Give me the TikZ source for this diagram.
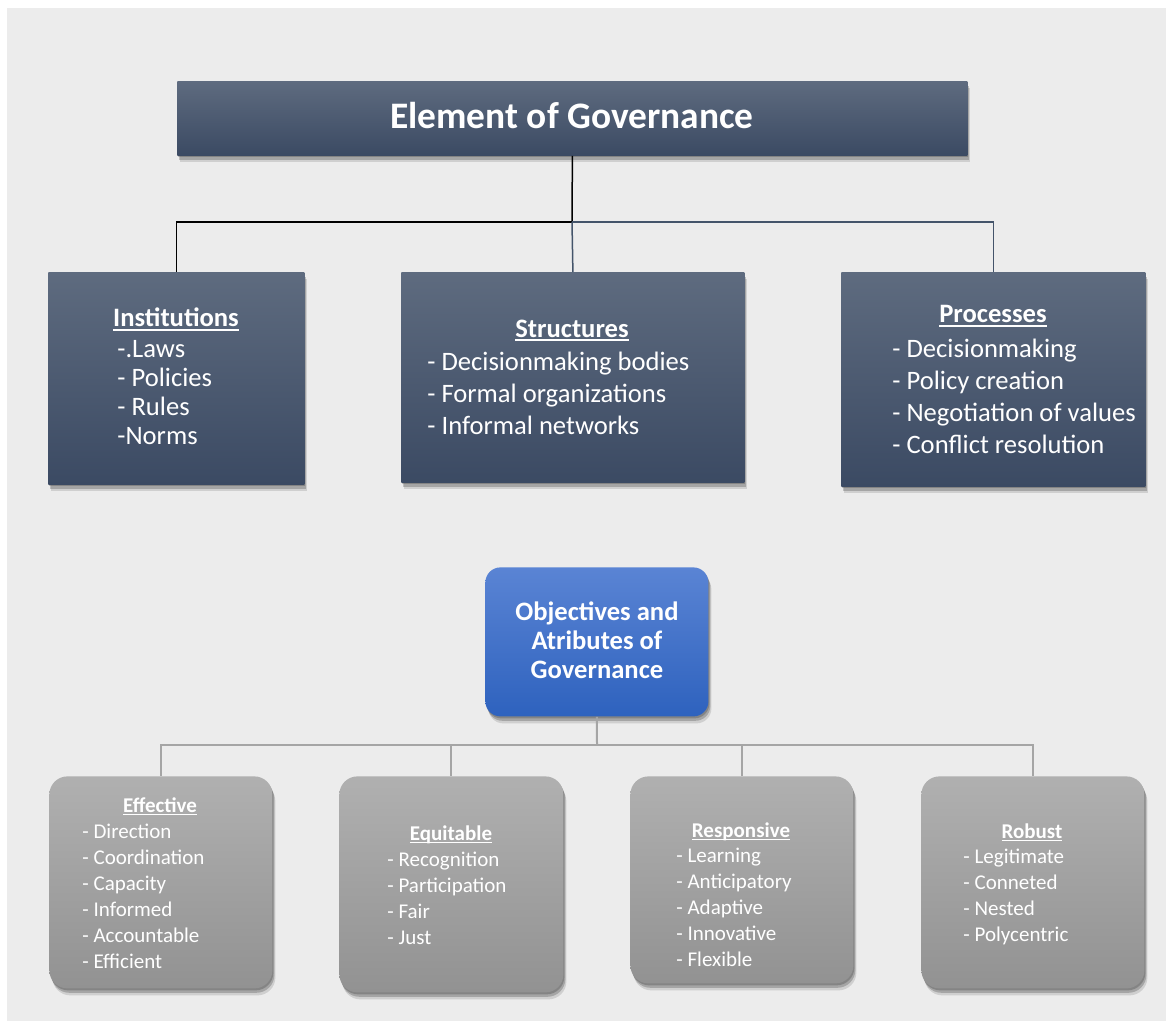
\documentclass[tikz,border=0pt]{standalone}
\usepackage{fontspec}
\setmainfont{Carlito}
\usetikzlibrary{shadows}
\newcommand\titleul[1]{\setbox0\hbox{#1}\rlap{\rule[-0.14em]{\wd0}{0.06em}}\box0}
\definecolor{bggray}{HTML}{ECECEC}
\definecolor{slatetop}{HTML}{5E6B7F}
\definecolor{slatebot}{HTML}{3B4A63}
\definecolor{slateline}{HTML}{44546A}
\definecolor{bluetop}{HTML}{5A84D4}
\definecolor{bluebot}{HTML}{2E62BE}
\definecolor{greytop}{HTML}{B0B0B0}
\definecolor{greybot}{HTML}{929292}
\definecolor{connline}{HTML}{A5A5A5}
\tikzset{
  boxshadow/.style={drop shadow={shadow xshift=1.5pt, shadow yshift=-3.5pt, opacity=0.12, fill=black},
                    drop shadow={shadow xshift=1pt, shadow yshift=-2.2pt, opacity=0.2, fill=black},
                    drop shadow={shadow xshift=0.5pt, shadow yshift=-1pt, opacity=0.2, fill=black}},
  elembox/.style={rectangle, anchor=north west, inner sep=0pt, top color=slatetop, bottom color=slatebot, boxshadow},
  objbox/.style={rectangle, rounded corners=7.5pt, anchor=north west, inner sep=0pt, top color=bluetop, bottom color=bluebot, boxshadow},
  attrbox/.style={rectangle, rounded corners=9pt, anchor=north west, inner sep=0pt, top color=greytop, bottom color=greybot, boxshadow},
  elemtitle/.style={text=white, anchor=base, inner sep=0pt, font=\fontsize{13.3}{16}\selectfont\bfseries},
  elemlist/.style={text=white, anchor=base west, inner sep=0pt, align=left, font=\fontsize{13.3}{16}\selectfont},
  attrtitle/.style={text=white, anchor=base, inner sep=0pt, font=\fontsize{10.5}{13}\selectfont\bfseries},
  attrlist/.style={text=white, anchor=base west, inner sep=0pt, align=left, font=\fontsize{10.5}{13}\selectfont},
  topline/.style={draw=black, line width=0.75pt},
  subline/.style={draw=slateline, line width=0.75pt},
  attrline/.style={draw=connline, line width=1pt},
}
\begin{document}
\begin{tikzpicture}[x=0.5pt, y=-0.5pt]
\useasboundingbox (0,0) rectangle (1166,1021);
\fill[bggray] (7,8) rectangle (1166,1021);
% elements
\node[elembox, minimum width=395pt, minimum height=37pt] (elem) at (177,81){};
\node[text=white, anchor=base, inner sep=0pt, font=\fontsize{18.7}{22}\selectfont\bfseries] (elemt) at (572,129){Element of Governance};
\node[elembox, minimum width=128pt, minimum height=106pt] (inst) at (48,272){};
\node[elemtitle] (instt) at (176,327){\titleul{Institutions}};
\node[elemlist, font=\fontsize{13.3}{14.6}\selectfont] (instl) at (117,444.6){-.Laws\\- Policies\\- Rules\\-Norms};
\node[elembox, minimum width=171.5pt, minimum height=105pt] (struct) at (401,272){};
\node[elemtitle] (structt) at (572,337){\titleul{Structures}};
\node[elemlist] (structl) at (427,434){- Decisionmaking bodies\\- Formal organizations\\- Informal networks};
\node[elembox, minimum width=152pt, minimum height=107pt] (proc) at (841,272){};
\node[elemtitle] (proct) at (993,323){\titleul{Processes}};
\node[elemlist] (procl) at (892,453){- Decisionmaking\\- Policy creation\\- Negotiation of values\\- Conflict resolution};
\coordinate (j0) at (572,222);
\draw[topline] (elem.south) -- (j0);
\draw[topline] (j0) -| (inst.north);
\draw[subline] (j0) -- (struct.north);
\draw[subline] (j0) -| (proc.north);
% objectives and attributes
\node[objbox, minimum width=111.5pt, minimum height=74.5pt] (obj) at (485,567){};
\node[text=white, anchor=base, inner sep=0pt, align=center, font=\fontsize{13.3}{14.5}\selectfont\bfseries] (objt) at (597,678){Objectives and\\Atributes of\\Governance};
\node[attrbox, minimum width=111.5pt, minimum height=106pt] (eff) at (49,776){};
\node[attrtitle] (efft) at (160,812){\titleul{Effective}};
\node[attrlist] (effl) at (82,968){- Direction\\- Coordination\\- Capacity\\- Informed\\- Accountable\\- Efficient};
\node[attrbox, minimum width=112pt, minimum height=108pt] (equi) at (339,776){};
\node[attrtitle] (equit) at (451,840){\titleul{Equitable}};
\node[attrlist] (equil) at (387,944){- Recognition\\- Participation\\- Fair\\- Just};
\node[attrbox, minimum width=111.5pt, minimum height=103.5pt] (resp) at (630,776){};
\node[attrtitle] (respt) at (741,837){\titleul{Responsive}};
\node[attrlist] (respl) at (676,966){- Learning\\- Anticipatory\\- Adaptive\\- Innovative\\- Flexible};
\node[attrbox, minimum width=111.5pt, minimum height=106pt] (rob) at (921,776){};
\node[attrtitle] (robt) at (1032,838){\titleul{Robust}};
\node[attrlist] (robl) at (963,941){- Legitimate\\- Conneted\\- Nested\\- Polycentric};
\coordinate (j1) at (597,745);
\draw[attrline] (obj.south) -- (j1);
\draw[attrline] (j1) -| (eff.north);
\draw[attrline] (j1) -| (equi.north);
\draw[attrline] (j1) -| (resp.north);
\draw[attrline] (j1) -| (rob.north);
\end{tikzpicture}
\end{document}
